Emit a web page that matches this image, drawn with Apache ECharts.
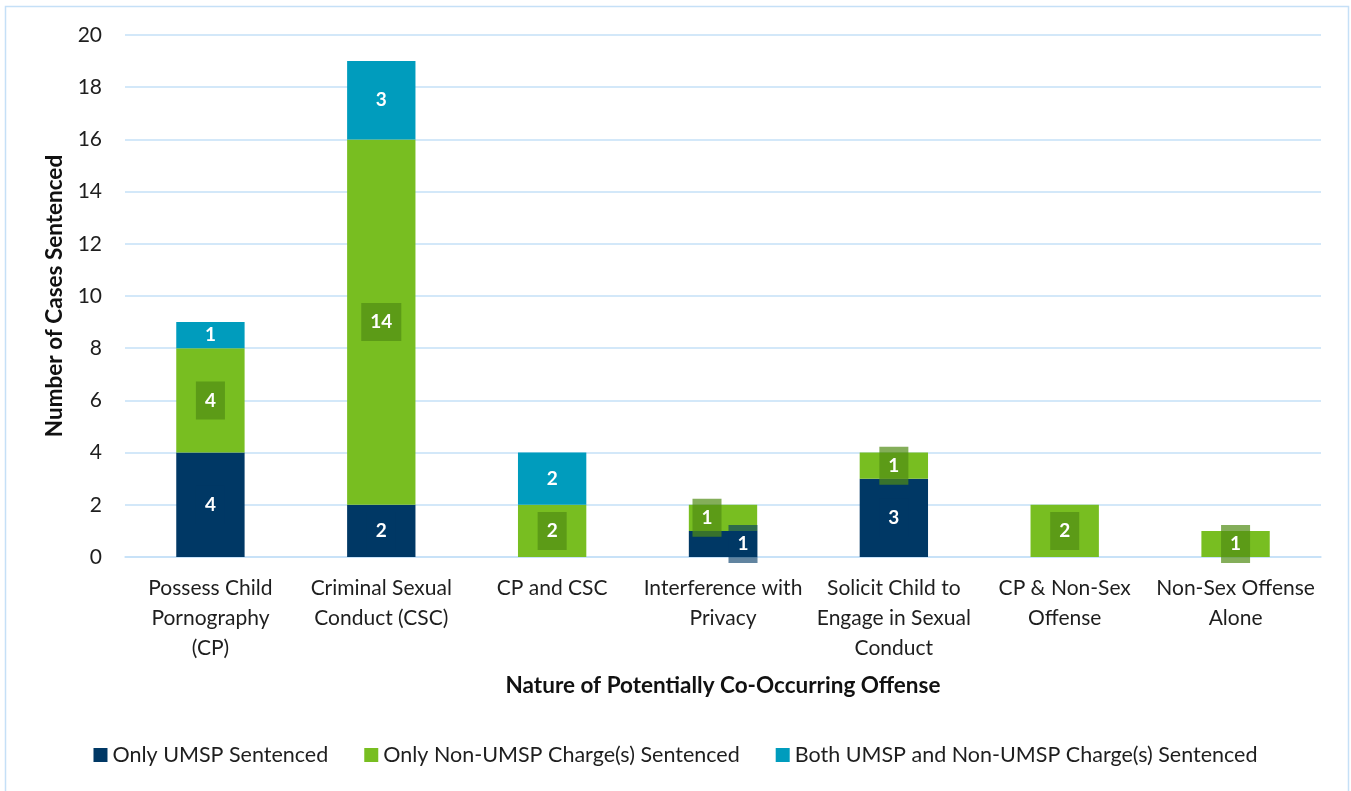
<!DOCTYPE html>
<html>
<head>
<meta charset="utf-8">
<script src="https://cdn.jsdelivr.net/npm/echarts@6/dist/echarts.min.js"></script>
<style>
  html, body { margin: 0; padding: 0; background: #fff; }
  #chart { width: 1351px; height: 791px; }
</style>
</head>
<body>
<div id="chart"></div>
<script>
var categories = [
  "Possess Child\nPornography\n(CP)",
  "Criminal Sexual\nConduct (CSC)",
  "CP and CSC",
  "Interference with\nPrivacy",
  "Solicit Child to\nEngage in Sexual\nConduct",
  "CP & Non-Sex\nOffense",
  "Non-Sex Offense\nAlone"
];
var onlyUmsp = [4, 2, 0, 1, 3, 0, 0];
var onlyNonUmsp = [4, 14, 2, 1, 1, 2, 1];
var bothCharges = [1, 3, 2, 0, 0, 0, 0];
var yTicks = [0, 2, 4, 6, 8, 10, 12, 14, 16, 18, 20];

var FONT = "Lato, 'Open Sans', sans-serif";

// zero segments get no label; the Interference pair is pushed apart like in the original
function makeData(values, offsets) {
  return values.map(function (v, i) {
    var d = { value: v };
    if (v === 0) d.label = { show: false };
    else if (offsets && offsets[i]) d.label = { offset: offsets[i] };
    return d;
  });
}

function labelStyle(bg) {
  return {
    show: true,
    position: "inside",
    color: "#fff",
    fontWeight: "bold",
    fontSize: 19,
    fontFamily: FONT,
    backgroundColor: bg,
    padding: [8, 9, 8, 9],
    lineHeight: 22
  };
}

var myChart = echarts.init(document.getElementById("chart"));

var option = {
  animation: false,
  graphic: [{
    type: "rect",
    shape: { x: 5.5, y: 6.5, width: 1343, height: 800 },
    style: { fill: null, stroke: "#c5e0f7", lineWidth: 1.5 },
    silent: true
  }],
  grid: { left: 125, right: 30, top: 35, bottom: 234 },
  legend: {
    bottom: 20,
    left: "center",
    itemWidth: 14,
    itemHeight: 14,
    itemGap: 36,
    icon: "rect",
    textStyle: { fontSize: 21.5, color: "#1e1e1e", fontFamily: FONT },
    data: ["Only UMSP Sentenced", "Only Non-UMSP Charge(s) Sentenced", "Both UMSP and Non-UMSP Charge(s) Sentenced"]
  },
  xAxis: {
    type: "category",
    data: categories,
    name: "Nature of Potentially Co-Occurring Offense",
    nameLocation: "middle",
    nameGap: 117,
    nameTextStyle: { fontSize: 22.5, fontWeight: "bold", color: "#111", fontFamily: FONT, verticalAlign: "top" },
    axisLine: { lineStyle: { color: "#c5e0f7", width: 1.5 } },
    axisTick: { show: false },
    axisLabel: { fontSize: 21, color: "#1e1e1e", lineHeight: 30, margin: 16, fontFamily: FONT, interval: 0 }
  },
  yAxis: {
    type: "value",
    min: yTicks[0],
    max: yTicks[yTicks.length - 1],
    interval: 2,
    name: "Number of Cases Sentenced",
    nameLocation: "middle",
    nameGap: 56,
    nameTextStyle: { fontSize: 22.5, fontWeight: "bold", color: "#111", fontFamily: FONT },
    axisLine: { show: false },
    axisTick: { show: false },
    axisLabel: { fontSize: 21, color: "#1e1e1e", margin: 23, fontFamily: FONT },
    splitLine: { lineStyle: { color: "#c5e0f7", width: 1.5 } }
  },
  series: [
    {
      name: "Only UMSP Sentenced",
      type: "bar",
      stack: "total",
      barWidth: "40%",
      itemStyle: { color: "#003865" },
      label: labelStyle("rgba(0,56,101,0.62)"),
      data: makeData(onlyUmsp, { 3: [20, 0] })
    },
    {
      name: "Only Non-UMSP Charge(s) Sentenced",
      type: "bar",
      stack: "total",
      itemStyle: { color: "#78be21" },
      label: labelStyle("rgba(80,140,20,0.7)"),
      data: makeData(onlyNonUmsp, { 3: [-16, 0] })
    },
    {
      name: "Both UMSP and Non-UMSP Charge(s) Sentenced",
      type: "bar",
      stack: "total",
      itemStyle: { color: "#009cbd" },
      label: labelStyle(null),
      data: makeData(bothCharges)
    }
  ]
};

myChart.setOption(option);
</script>
</body>
</html>
